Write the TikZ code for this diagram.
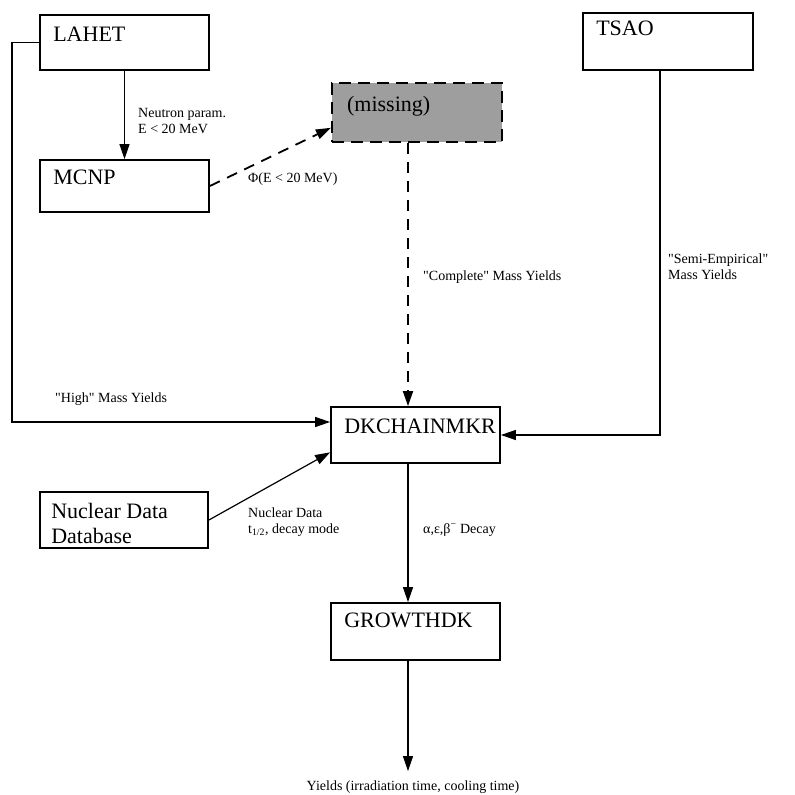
\documentclass[tikz,border=0pt]{standalone}
\usepackage{fontspec}
\setmainfont{Liberation Serif}
\usetikzlibrary{arrows.meta,calc}
\newcommand{\dq}{\textquotedbl}
\begin{document}
\begin{tikzpicture}[x=1pt,y=-1pt,
  box/.style={draw,line width=1.8pt,minimum width=169pt,minimum height=56pt,inner sep=0pt},
  missbox/.style={draw,line width=2.2pt,dash pattern=on 12pt off 7pt,fill=black!38,minimum width=170pt,minimum height=59pt,inner sep=0pt},
  blbl/.style={anchor=base west,inner sep=0pt,xshift=14pt,yshift=-27pt,font=\fontsize{22}{25}\selectfont},
  small/.style={inner sep=0pt,font=\fontsize{14}{16}\selectfont},
  conn/.style={line width=1.2pt,-{Triangle[length=15pt,width=10pt]}},
  dconn/.style={line width=1.8pt,dash pattern=on 11pt off 8pt,-{Triangle[length=15pt,width=10pt]}}
]
\useasboundingbox (0,0) rectangle (795,795);
% boxes
\node[box,minimum height=55pt,label={[blbl]north west:LAHET}] (lahet) at (124.5,42.5) {};
\node[box,minimum height=52pt,label={[blbl,yshift=2pt]north west:MCNP}] (mcnp) at (124.5,186) {};
\node[missbox,label={[blbl,xshift=2pt,yshift=-3pt]north west:(missing)}] (miss) at (417,112.5) {};
\node[box,minimum width=170pt,minimum height=57pt,label={[blbl,yshift=4pt]north west:TSAO}] (tsao) at (668,41.5) {};
\node[box,label={[blbl]north west:DKCHAINMKR}] (dk) at (415.5,435) {};
\node[box,minimum width=168pt,label={[blbl,xshift=-2pt]north west:{\begin{tabular}[t]{@{}l@{}}Nuclear Data\\Database\end{tabular}}}] (nd) at (124,520) {};
\node[box,minimum height=57pt,label={[blbl,yshift=2pt]north west:GROWTHDK}] (gr) at (415.5,631.5) {};
% output text
\node[small,anchor=base] (out) at (413,790) {Yields (irradiation time, cooling time)};
% helper coordinates
\coordinate (gx) at (408,0);
\coordinate (tx) at (660,0);
\coordinate (hl) at (12,422);
% connectors
\draw[conn] (lahet.south) -- (mcnp.north);
\draw[conn] (lahet.west) -| (hl) -- (hl -| dk.west);
\draw[conn] (tsao.south -| tx) |- (dk.east);
\draw[conn] (nd.east) -- ($(dk.south west)!0.2!(dk.north west)$);
\draw[dconn] (mcnp.east) -- ($(miss.south west)!0.25!(miss.north west)$);
\draw[dconn] (miss.south -| gx) -- (dk.north -| gx);
\draw[conn] (dk.south -| gx) -- (gr.north -| gx);
\draw[conn] (gr.south -| gx) -- ($(out.north -| gx)+(0,-9)$);
% labels
\node[small,anchor=base west,align=left] (l1) at (138,133) {Neutron param.\\E < 20 MeV};
\node[small,anchor=base west] (l2) at (248,182) {Φ(E < 20 MeV)};
\node[small,anchor=base west] (l3) at (423,280) {\dq Complete\dq{} Mass Yields};
\node[small,anchor=base west] (l4) at (668,263) {\begin{tabular}[t]{@{}l@{}}\dq Semi-Empirical\dq\\Mass Yields\end{tabular}};
\node[small,anchor=base west] (l5) at (55,402) {\dq High\dq{} Mass Yields};
\node[small,anchor=base west] (l6) at (248,517) {\begin{tabular}[t]{@{}l@{}}Nuclear Data\\t\textsubscript{1/2}, decay mode\end{tabular}};
\node[small,anchor=base west] (l7) at (423,533) {α,ε,β\textsuperscript{−} Decay};
\end{tikzpicture}
\end{document}
